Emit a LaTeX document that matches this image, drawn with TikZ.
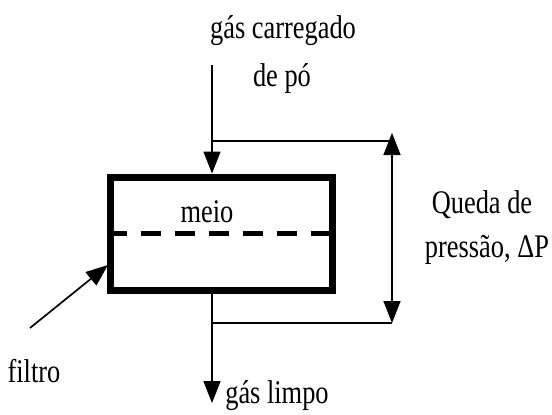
\documentclass[tikz,border=0pt]{standalone}
\usepackage{fontspec}
\setmainfont[FakeStretch=0.8]{Liberation Serif}
\usetikzlibrary{arrows.meta}
\begin{document}
\begin{tikzpicture}[x=1pt,y=-1pt,
  lbl/.style={inner sep=0pt,anchor=base,font=\fontsize{33}{40}\selectfont},
  thin/.style={line width=1.7pt},
  tip/.style={Triangle[width=17pt,length=22pt]},
  arr/.style={thin,-{Triangle[width=17pt,length=22pt]}},
  darr/.style={thin,{Triangle[width=17pt,length=22pt]}-{Triangle[width=17pt,length=22pt]}}]
\useasboundingbox (0,0) rectangle (552,415);
% box
\node[draw,line width=7pt,minimum width=222pt,minimum height=113pt,inner sep=0pt] (box) at (221,233.5) {};
\draw[line width=5pt,dash pattern=on 20pt off 14pt] (box.west) -- (box.east);
\node[lbl] (meio) at (207,222) {meio};
% labels
\node[lbl] (in1) at (283,38) {gás carregado};
\node[lbl] (in2) at (282,86) {de pó};
\node[lbl] (out) at (277,403) {gás limpo};
\node[lbl] (filtro) at (34,382) {filtro};
\node[lbl] (dp1) at (482,213) {Queda de};
\node[lbl] (dp2) at (487,257) {pressão, ΔP};
% coordinates
\coordinate (inTop) at (212,65);
\coordinate (inMid) at (212,141);
\coordinate (outMid) at (212,323);
\coordinate (outEnd) at (212,403);
\coordinate (rTop) at (392,141);
\coordinate (rTip) at (392,133);
\coordinate (rBot) at (392,323);
\coordinate (fStart) at (30,328);
\coordinate (fEnd) at (108,265);
% connectors
\draw[arr] (inTop) -- (box.north -| inTop);
\draw[thin] (inMid) -- (rTop);
\draw[darr] (rTip) -- (rBot);
\draw[thin] (outMid) -- (rBot);
\draw[arr] (box.south -| outEnd) -- (outEnd);
\draw[arr] (fStart) -- (fEnd);
\end{tikzpicture}
\end{document}
